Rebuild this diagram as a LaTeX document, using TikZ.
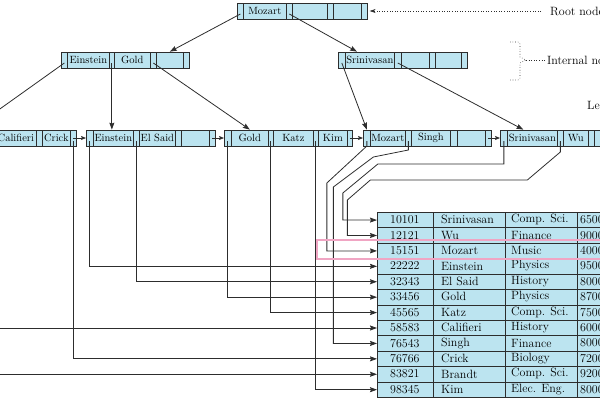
\documentclass[tikz,border=0pt]{standalone}
\usepackage{fontspec}
\usetikzlibrary{arrows.meta,calc}
\definecolor{nodeblue}{RGB}{188,228,240}
\definecolor{linegray}{RGB}{45,45,45}
\definecolor{hlpink}{RGB}{240,165,195}
\tikzset{
 cell/.style={draw=linegray, fill=nodeblue, line width=0.7pt, minimum height=16pt, inner sep=0pt, anchor=west, font=\fontsize{10.5}{12}\selectfont},
 tcell/.style={draw=linegray, fill=nodeblue, line width=0.7pt, minimum height=15.42pt, inner sep=0pt, anchor=north west},
 ttext/.style={anchor=west, inner sep=0pt, font=\fontsize{12}{14}\selectfont},
 ptr/.style={draw=linegray, line width=0.8pt},
 arr/.style={ptr, -{Stealth[length=7pt,width=5pt,inset=1pt]}},
 sarr/.style={ptr, -{Stealth[length=5pt,width=4pt,inset=1pt]}},
 lbl/.style={anchor=west, inner sep=0pt, font=\fontsize{12}{14}\selectfont},
 dotline/.style={draw=linegray, line width=0.6pt, dotted},
}
\newcommand\bnode[3]{\foreach \xx/\ww/\cc [count=\ii] in {#3} {\node[cell, minimum width=\ww pt] (#1\ii) at (\xx,#2) {\cc};}}
\begin{document}
\begin{tikzpicture}[x=1pt,y=-1pt]
\useasboundingbox (0,0) rectangle (600,400);
\clip (0,0) rectangle (600,400);
% table
\foreach \id/\nm/\dept/\sal [count=\rr] in {10101/Srinivasan/Comp. Sci./65000,12121/Wu/Finance/90000,15151/Mozart/Music/40000,22222/Einstein/Physics/95000,32343/El Said/History/80000,33456/Gold/Physics/87000,45565/Katz/Comp. Sci./75000,58583/Califieri/History/60000,76543/Singh/Finance/80000,76766/Crick/Biology/72000,83821/Brandt/Comp. Sci./92000,98345/Kim/Elec. Eng./80000} {
  \node[tcell, minimum width=245pt] (row\rr) at (377,{212+(\rr-1)*15.42}) {};
  \node[ttext] (id\rr) at (390,{212+(\rr-0.5)*15.42}) {\id};
  \node[ttext] (nm\rr) at (441,{212+(\rr-0.5)*15.42}) {\nm};
  \node[ttext] (dp\rr) at (511,{212+(\rr-0.5)*15.42}) {\dept};
  \node[ttext] (sl\rr) at (580,{212+(\rr-0.5)*15.42}) {\sal};
}
\foreach \dx in {56,128,200} {
  \draw[linegray, line width=0.7pt] ([xshift=\dx pt]row1.north west) -- ([xshift=\dx pt]row12.south west);
}
% tree nodes
\bnode{R}{11}{237/6/{},243/43/Mozart,286/6/{},292/35/{},327/6/{},333/28/{},361/6/{}}
\bnode{I}{60}{61/6/{},67/42/Einstein,109/5/{},114/36/Gold,150/6/{},156/27/{},183/6/{}}
\bnode{J}{60}{338/7/{},345/49/Srinivasan,394/7/{},401/28/{},429/6/{},435/26/{},461/6/{}}
\bnode{A}{138}{-54/6/{},-48/37/Brandt,-11/6/{},-5/41/Califieri,36/6/{},42/28/Crick,70/6/{}}
\bnode{B}{138}{86/7/{},93/40/Einstein,133/6/{},139/36/El Said,175/6/{},181/28/{},209/6/{}}
\bnode{C}{138}{224/7/{},231/37/Gold,268/5/{},273/40/Katz,313/5/{},318/29/Kim,347/5/{}}
\bnode{D}{138}{363/7/{},370/35/Mozart,405/6/{},411/39/Singh,450/7/{},457/28/{},485/6/{}}
\bnode{E}{138}{500/7/{},507/50/Srinivasan,557/6/{},563/25/Wu,588/6/{},594/28/{},622/6/{}}
% tree pointers
\draw[arr] ($(R1.center)+(0,3)$) -- (I6.north);
\draw[arr] ($(R3.center)+(0,3)$) -- ([xshift=12pt]J2.north west);
\draw[arr] ($(I1.center)+(0,3)$) -- (A2.north);
\draw[arr] ($(I3.center)+(0,3)$) -- (I3.center |- B2.north);
\draw[arr] ($(I5.center)+(0,3)$) -- (C2.north);
\draw[arr] ($(J1.center)+(0,3)$) -- (D1.north);
\draw[arr] ($(J3.center)+(0,3)$) -- ([xshift=-9pt]E2.north);
% next-leaf pointers
\draw[sarr] (A7.center) -- (B1.west);
\draw[sarr] (B7.center) -- (C1.west);
\draw[sarr] (C7.center) -- (D1.west);
\draw[sarr] (D7.center) -- (E1.west);
% record pointers
\draw[arr] ($(A1.center)+(0,3)$) |- (row11.west);
\draw[arr] ($(A3.center)+(0,3)$) |- (row8.west);
\draw[arr] ($(A7.center)+(0,3)$) |- (row10.west);
\draw[arr] ($(B1.center)+(0,3)$) |- (row4.west);
\draw[arr] ($(B3.center)+(0,3)$) |- (row5.west);
\draw[arr] ($(C1.center)+(0,3)$) |- (row6.west);
\draw[arr] ($(C3.center)+(0,3)$) |- (row7.west);
\draw[arr] ($(C5.center)+(0,3)$) |- (row12.west);
\draw[arr] ($(D1.center)+(0,3)$) -- ++(0,5) -- ++(-40,37) |- (row3.west);
\draw[arr] ($(D3.center)+(0,3)$) -- ++(0,9) -- ++(-35,7) -- ++(-40,30) |- (row9.west);
\draw[arr] ($(E1.center)+(0,3)$) -- ++(0,23) -- ++(-126,0) -- ++(-35,29) |- (row1.west);
\draw[arr] ($(E3.center)+(0,3)$) -- ++(0,11) -- ++(-33,28) -- ++(-157,0) -- ++(-23,20) |- (row2.west);
% labels
\node[lbl] (rootlbl) at (550,11) {Root node};
\draw[dotline, -{Stealth[length=6pt,width=4pt]}] ([xshift=-9pt]rootlbl.west) -- ([xshift=2pt]R7.east);
\node[lbl] (intlbl) at (547,60) {Internal nodes};
\coordinate (bracetip) at (526,60);
\draw[dotline] (510,42) -- (518,42) -- (520,44) -- (520,57) -- (bracetip) -- (520,63) -- (520,78) -- (518,80) -- (510,80);
\draw[dotline] (bracetip) -- ([xshift=-2pt]intlbl.west);
\node[lbl] (leaflbl) at (587,105) {Leaf nodes};
% highlight
\draw[hlpink, line width=1.8pt] (317,240) rectangle (612,259);
\end{tikzpicture}
\end{document}
